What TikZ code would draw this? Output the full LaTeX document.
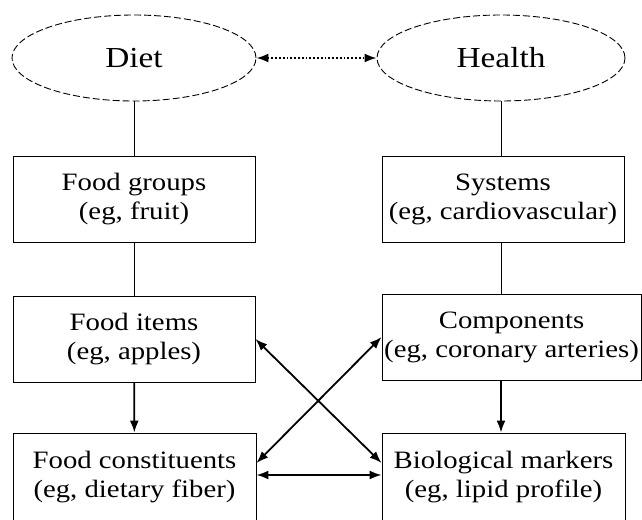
\documentclass[tikz,border=0pt]{standalone}
\usepackage{fontspec}
\setmainfont{Liberation Serif}[FakeStretch=1.15]
\usetikzlibrary{shapes.geometric,arrows.meta}

\begin{document}
\begin{tikzpicture}[x=1pt,y=-1pt]
        \tikzset{level/.style={draw,ellipse,dash pattern=on 7pt off 3pt,line width=0.9pt,minimum width=244pt,
                minimum height=86pt,inner sep=0pt,font=\fontsize{29}{32}\selectfont},
            box/.style={draw,rectangle,line width=0.9pt,minimum height=86pt,inner sep=0pt,
                align=center,font=\fontsize{25}{29}\selectfont},
            link/.style={draw,line width=0.9pt},
            flow/.style={draw,line width=1.8pt,-{Latex[length=12pt,width=9pt]}},
            twoway/.style={draw,line width=1.8pt,{Latex[length=12pt,width=9pt]}-{Latex[length=12pt,width=9pt]}}}
        \useasboundingbox (0,0) rectangle (642,519);
        % diet side
        \node[level] (diet) at (134,58) {Diet};
        \node[box,minimum width=242pt] (groups) at (134,199.5) {Food groups\\(eg, fruit)};
        \node[box,minimum width=242pt] (items) at (134,339) {Food items\\(eg, apples)};
        \node[box,minimum width=243pt,minimum height=88pt] (constituents) at (134.5,477) {Food constituents\\(eg, dietary fiber)};
        % health side
        \node[level,minimum width=248pt] (health) at (501,58) {Health};
        \node[box,minimum width=242pt] (systems) at (503,199) {Systems\\(eg, cardiovascular)};
        \node[box,minimum width=259pt] (components) at (511.5,337) {Components\\(eg, coronary arteries)};
        \node[box,minimum width=243pt,minimum height=88pt] (markers) at (503.5,477) {Biological markers\\(eg, lipid profile)};
        % connectors
        \draw[twoway,dotted] (diet) -- (health);
        \draw[link] (diet) -- (groups);
        \draw[link] (groups) -- (items);
        \draw[flow] (items) -- (constituents);
        \draw[link] (health.south) -- (health.south |- systems.north);
        \draw[link] (systems.south -| health.south) -- (components.north -| health.south);
        \draw[flow] (components.south -| health.south) -- (markers.north -| health.south);
        \draw[twoway] (items.east) -- ([yshift=14pt]markers.west);
        \draw[twoway] (components.west) -- ([yshift=14pt]constituents.east);
        \draw[twoway] ([yshift=2pt]constituents.east) -- ([yshift=2pt]markers.west);
    \end{tikzpicture}
\end{document}
